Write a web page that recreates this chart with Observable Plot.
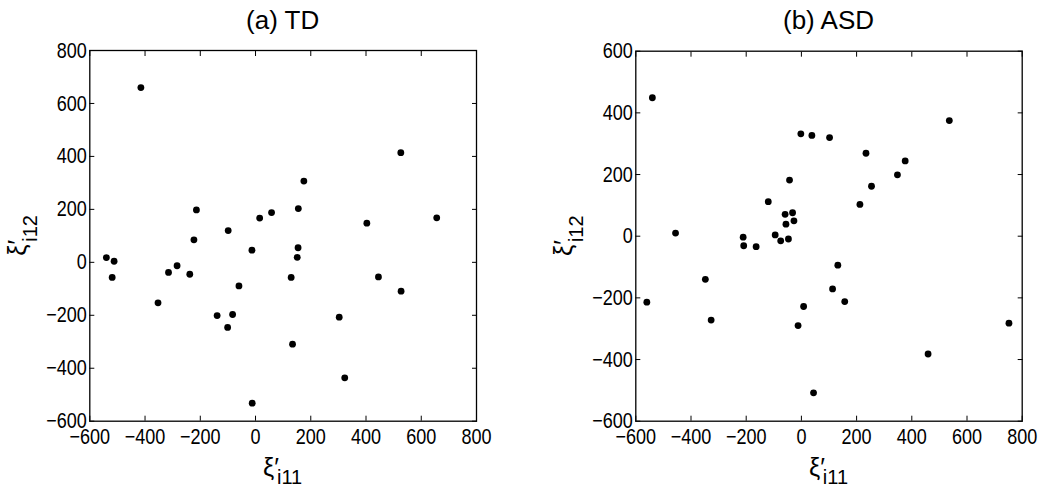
<!DOCTYPE html>
<html><head><meta charset="utf-8">
<script src="https://cdn.jsdelivr.net/npm/d3@7"></script>
<script src="https://cdn.jsdelivr.net/npm/@observablehq/plot@0.6"></script>
<style>
body{margin:0;background:#fff;}
#wrap{position:relative;width:1041px;height:488px;overflow:hidden;background:#fff;}
.panel{position:absolute;top:0;}
</style></head><body><div id="wrap"></div>
<script>
// (a) TD
const tdX = [-415,-540,-512,-519,-353,-315,-284,-238,-223,-214,-139,-101,-83,-99,-60,-13,-12,15,58,129,134,151,154,155,175,303,323,403,445,526,527,656];
const tdY = [660,18,4,-57,-153,-38,-13,-45,85,198,-201,-246,-197,120,-89,46,-532,167,188,-57,-309,19,55,203,307,-207,-436,148,-55,414,-109,168];
// (b) ASD
const asdX = [-540,-560,-456,-348,-327,-211,-209,-164,-120,-95,-75,-59,-56,-47,-43,-32,-27,-12,-2,8,38,44,102,113,132,157,212,234,254,348,376,459,536,752];
const asdY = [449,-214,10,-140,-272,-3,-31,-34,112,4,-15,71,39,-9,182,76,50,-290,332,-228,327,-508,320,-171,-94,-212,103,269,162,199,244,-382,375,-282];

const titles = ["(a) TD", "(b) ASD"];
const xTicks = [-600,-400,-200,0,200,400,600,800];
const tdYTicks = [-600,-400,-200,0,200,400,600,800];
const asdYTicks = [-600,-400,-200,0,200,400,600];
const xLabelSub = "i11";
const yLabelSub = "i12";

const textFont = "'Liberation Sans',Arial,sans-serif";

function panel({xs, ys, yDomain, yTicks, title, left, width, marginLeft, marginRight, marginTop, marginBottom}) {
  const data = xs.map((x, i) => ({x, y: ys[i]}));
  const H = 488;
  const svg = Plot.plot({
    width, height: H, marginLeft, marginRight, marginTop, marginBottom,
    style: {fontFamily: textFont, fontSize: "22px", color: "#000", background: "transparent", overflow: "visible"},
    x: {domain: [-600, 800]},
    y: {domain: yDomain},
    marks: [
      Plot.axisX(xTicks, {anchor: "bottom", tickSize: -5, tickFormat: () => "", stroke: "#000", label: null}),
      Plot.axisX(xTicks, {anchor: "top", tickSize: -5, tickFormat: () => "", stroke: "#000", label: null}),
      Plot.axisY(yTicks, {anchor: "left", tickSize: -5, tickFormat: () => "", stroke: "#000", label: null}),
      Plot.axisY(yTicks, {anchor: "right", tickSize: -5, tickFormat: () => "", stroke: "#000", label: null}),
      Plot.axisX(xTicks, {anchor: "bottom", tickSize: 0, tickPadding: 7, fill: "#000", label: null}),
      Plot.axisY(yTicks, {anchor: "left", tickSize: 0, tickPadding: 3, fill: "#000", label: null}),
      Plot.frame({stroke: "#000", strokeWidth: 1.3}),
      Plot.dot(data, {x: "x", y: "y", r: 3.4, fill: "#000", stroke: null})
    ]
  });
  const s = d3.select(svg);
  // narrow the tick labels horizontally, keeping each anchor point
  s.selectAll('g[aria-label$="tick label"] text').each(function() {
    const t = this.getAttribute("transform") || "";
    this.setAttribute("transform", t + " scale(0.82,1)");
  });
  const cx = marginLeft + (width - marginLeft - marginRight) / 2;
  const cy = marginTop + (H - marginTop - marginBottom) / 2;
  s.append("text").attr("x", cx).attr("y", 29).attr("text-anchor", "middle")
    .attr("font-family", textFont).attr("font-size", 26).attr("fill", "#000").text(title);
  // x label
  const xl = s.append("text").attr("x", cx).attr("y", 476).attr("text-anchor", "middle")
    .attr("font-family", textFont).attr("font-size", 25).attr("fill", "#000");
  xl.append("tspan").text("ξ′");
  xl.append("tspan").attr("dx", -2).attr("dy", 8).attr("font-size", 20).text(xLabelSub);
  // y label
  const yl = s.append("text").attr("transform", `translate(${marginLeft - 63},${cy}) rotate(-90)`)
    .attr("text-anchor", "middle").attr("font-family", textFont).attr("font-size", 25).attr("fill", "#000");
  yl.append("tspan").text("ξ′");
  yl.append("tspan").attr("dx", -2).attr("dy", 11).attr("font-size", 20).text(yLabelSub);
  svg.classList.add("panel");
  svg.style.left = left + "px";
  return svg;
}

const wrap = document.getElementById("wrap");
wrap.appendChild(panel({xs: tdX, ys: tdY, yDomain: [-600, 800], yTicks: tdYTicks, title: titles[0],
  left: 0, width: 520, marginLeft: 89.3, marginRight: 44, marginTop: 50, marginBottom: 67.3}));
wrap.appendChild(panel({xs: asdX, ys: asdY, yDomain: [-600, 600], yTicks: asdYTicks, title: titles[1],
  left: 520, width: 521, marginLeft: 115.3, marginRight: 19.3, marginTop: 50.7, marginBottom: 67.3}));
</script></body></html>
